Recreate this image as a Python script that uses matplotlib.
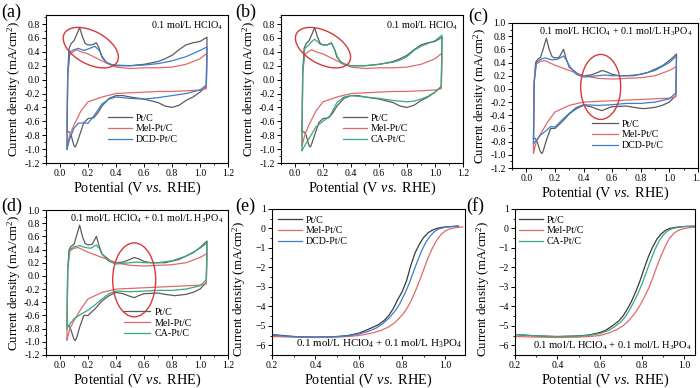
import numpy as np
import matplotlib
matplotlib.use("Agg")
import matplotlib.pyplot as plt
from matplotlib.patches import Ellipse
from matplotlib.transforms import ScaledTranslation
from matplotlib.ticker import AutoMinorLocator, MultipleLocator, FormatStrFormatter

plt.rcParams['font.family'] = ['Liberation Serif', 'DejaVu Serif']
plt.rcParams['mathtext.fontset'] = 'custom'
plt.rcParams['mathtext.rm'] = 'Liberation Serif'
plt.rcParams['mathtext.it'] = 'Liberation Serif:italic'

# ---------------- CV data, 0.1 M HClO4 (panels a, b) ----------------
cv1_pt_an_x = [0.05, 0.055, 0.065, 0.08, 0.10, 0.12, 0.14, 0.16, 0.18, 0.20, 0.23, 0.26, 0.28, 0.30, 0.33, 0.36, 0.40, 0.50, 0.60, 0.70, 0.75, 0.80, 0.85, 0.90, 0.95, 1.00, 1.05]
cv1_pt_an_y = [-0.75, 0.10, 0.45, 0.52, 0.56, 0.65, 0.75, 0.62, 0.52, 0.50, 0.50, 0.53, 0.45, 0.32, 0.25, 0.22, 0.20, 0.20, 0.22, 0.26, 0.30, 0.35, 0.43, 0.50, 0.53, 0.55, 0.61]
cv1_pt_ca_x = [1.05, 1.045, 1.00, 0.95, 0.90, 0.85, 0.80, 0.75, 0.70, 0.60, 0.50, 0.45, 0.40, 0.35, 0.30, 0.27, 0.24, 0.20, 0.17, 0.14, 0.12, 0.11, 0.10, 0.09, 0.08, 0.07, 0.06, 0.05]
cv1_pt_ca_y = [0.61, -0.10, -0.18, -0.25, -0.30, -0.37, -0.40, -0.38, -0.33, -0.28, -0.25, -0.23, -0.23, -0.27, -0.38, -0.48, -0.55, -0.56, -0.62, -0.80, -0.92, -0.97, -0.95, -0.88, -0.80, -0.76, -0.75, -0.75]

cv1_mel_an_x = [0.05, 0.055, 0.07, 0.10, 0.12, 0.15, 0.20, 0.25, 0.30, 0.35, 0.40, 0.50, 0.60, 0.70, 0.80, 0.90, 1.00, 1.05]
cv1_mel_an_y = [-0.95, 0.10, 0.36, 0.41, 0.43, 0.40, 0.37, 0.32, 0.27, 0.22, 0.18, 0.16, 0.17, 0.17, 0.18, 0.22, 0.30, 0.38]
cv1_mel_ca_x = [1.05, 1.045, 1.00, 0.90, 0.80, 0.70, 0.60, 0.50, 0.40, 0.30, 0.20, 0.15, 0.10, 0.07, 0.05]
cv1_mel_ca_y = [0.38, -0.13, -0.15, -0.16, -0.17, -0.17, -0.18, -0.19, -0.20, -0.25, -0.32, -0.45, -0.65, -0.80, -0.95]

cv1_dcd_an_x = [0.05, 0.055, 0.07, 0.10, 0.13, 0.17, 0.20, 0.25, 0.28, 0.30, 0.33, 0.36, 0.40, 0.50, 0.60, 0.70, 0.80, 0.90, 1.00, 1.05]
cv1_dcd_an_y = [-1.00, 0.05, 0.40, 0.43, 0.45, 0.42, 0.44, 0.48, 0.42, 0.34, 0.25, 0.22, 0.21, 0.20, 0.21, 0.23, 0.27, 0.33, 0.42, 0.47]
cv1_dcd_ca_x = [1.05, 1.045, 1.00, 0.90, 0.80, 0.70, 0.60, 0.50, 0.40, 0.35, 0.30, 0.25, 0.20, 0.17, 0.13, 0.10, 0.07, 0.05]
cv1_dcd_ca_y = [0.47, -0.08, -0.15, -0.20, -0.23, -0.26, -0.28, -0.27, -0.25, -0.28, -0.35, -0.50, -0.63, -0.62, -0.63, -0.70, -0.85, -1.00]

cv1_ca_an_x = [0.05, 0.055, 0.07, 0.10, 0.12, 0.14, 0.16, 0.18, 0.20, 0.23, 0.26, 0.28, 0.30, 0.33, 0.36, 0.40, 0.50, 0.60, 0.70, 0.75, 0.80, 0.85, 0.90, 0.95, 1.00, 1.05]
cv1_ca_an_y = [-1.02, 0.10, 0.45, 0.50, 0.55, 0.58, 0.55, 0.51, 0.50, 0.50, 0.52, 0.45, 0.34, 0.24, 0.21, 0.20, 0.20, 0.22, 0.25, 0.28, 0.33, 0.42, 0.48, 0.52, 0.56, 0.64]
cv1_ca_ca_x = [1.05, 1.045, 1.00, 0.95, 0.90, 0.85, 0.80, 0.75, 0.70, 0.60, 0.50, 0.40, 0.35, 0.30, 0.25, 0.20, 0.15, 0.10, 0.07, 0.05]
cv1_ca_ca_y = [0.64, -0.10, -0.18, -0.24, -0.28, -0.31, -0.32, -0.31, -0.30, -0.27, -0.25, -0.23, -0.25, -0.33, -0.52, -0.60, -0.68, -0.85, -0.95, -1.02]

# ---------------- CV data, 0.1 M HClO4 + 0.1 M H3PO4 (panels c, d) ----------------
cv2_pt_an_x = [0.05, 0.055, 0.065, 0.08, 0.10, 0.12, 0.14, 0.16, 0.18, 0.20, 0.23, 0.26, 0.28, 0.30, 0.33, 0.36, 0.40, 0.45, 0.50, 0.53, 0.56, 0.60, 0.65, 0.75, 0.85, 0.95, 1.00, 1.05]
cv2_pt_an_y = [-0.75, 0.10, 0.40, 0.45, 0.48, 0.62, 0.77, 0.60, 0.49, 0.47, 0.48, 0.60, 0.45, 0.33, 0.28, 0.23, 0.20, 0.21, 0.25, 0.28, 0.26, 0.22, 0.20, 0.20, 0.25, 0.35, 0.43, 0.53]
cv2_pt_ca_x = [1.05, 1.045, 1.00, 0.95, 0.90, 0.82, 0.75, 0.70, 0.60, 0.56, 0.53, 0.50, 0.45, 0.40, 0.35, 0.30, 0.25, 0.20, 0.17, 0.14, 0.12, 0.11, 0.10, 0.09, 0.08, 0.07, 0.06, 0.05]
cv2_pt_ca_y = [0.53, -0.10, -0.20, -0.25, -0.28, -0.30, -0.28, -0.26, -0.27, -0.30, -0.33, -0.31, -0.27, -0.25, -0.30, -0.38, -0.50, -0.60, -0.60, -0.78, -0.93, -0.98, -0.96, -0.90, -0.83, -0.77, -0.75, -0.75]

cv2_mel_an_x = [0.05, 0.055, 0.07, 0.10, 0.13, 0.20, 0.30, 0.40, 0.50, 0.60, 0.70, 0.80, 0.90, 1.00, 1.05]
cv2_mel_an_y = [-0.97, 0.10, 0.38, 0.42, 0.43, 0.36, 0.28, 0.20, 0.16, 0.15, 0.16, 0.17, 0.20, 0.28, 0.34]
cv2_mel_ca_x = [1.05, 1.045, 1.00, 0.90, 0.80, 0.70, 0.60, 0.50, 0.40, 0.30, 0.20, 0.15, 0.10, 0.07, 0.05]
cv2_mel_ca_y = [0.34, -0.12, -0.14, -0.15, -0.16, -0.17, -0.18, -0.19, -0.20, -0.25, -0.35, -0.50, -0.68, -0.80, -0.97]

cv2_dcd_an_x = [0.05, 0.055, 0.07, 0.10, 0.13, 0.18, 0.22, 0.26, 0.28, 0.30, 0.35, 0.40, 0.50, 0.55, 0.60, 0.70, 0.80, 0.90, 1.00, 1.05]
cv2_dcd_an_y = [-0.83, 0.10, 0.40, 0.45, 0.47, 0.44, 0.45, 0.50, 0.44, 0.35, 0.22, 0.18, 0.20, 0.21, 0.20, 0.20, 0.22, 0.28, 0.40, 0.50]
cv2_dcd_ca_x = [1.05, 1.045, 1.00, 0.90, 0.80, 0.70, 0.60, 0.50, 0.40, 0.35, 0.30, 0.25, 0.20, 0.17, 0.14, 0.10, 0.07, 0.05]
cv2_dcd_ca_y = [0.50, -0.06, -0.15, -0.20, -0.22, -0.22, -0.24, -0.25, -0.24, -0.28, -0.37, -0.47, -0.58, -0.57, -0.63, -0.70, -0.78, -0.83]

cv2_ca_an_x = [0.05, 0.055, 0.07, 0.10, 0.14, 0.18, 0.22, 0.26, 0.28, 0.30, 0.35, 0.40, 0.50, 0.55, 0.60, 0.70, 0.80, 0.90, 1.00, 1.05]
cv2_ca_an_y = [-0.80, 0.10, 0.40, 0.44, 0.46, 0.43, 0.42, 0.47, 0.42, 0.33, 0.22, 0.18, 0.20, 0.21, 0.20, 0.20, 0.23, 0.30, 0.42, 0.50]
cv2_ca_ca_x = [1.05, 1.045, 1.00, 0.90, 0.80, 0.70, 0.60, 0.50, 0.40, 0.35, 0.30, 0.25, 0.20, 0.15, 0.10, 0.07, 0.05]
cv2_ca_ca_y = [0.50, -0.06, -0.15, -0.20, -0.22, -0.22, -0.23, -0.24, -0.23, -0.27, -0.35, -0.44, -0.52, -0.58, -0.65, -0.73, -0.80]

# ---------------- LSV data (panels e, f) ----------------
lsv_e_pt_x = [0.20, 0.25, 0.30, 0.35, 0.40, 0.45, 0.50, 0.55, 0.60, 0.63, 0.66, 0.69, 0.72, 0.74, 0.76, 0.78, 0.80, 0.82, 0.84, 0.86, 0.88, 0.90, 0.92, 0.94, 0.96, 0.98, 1.00, 1.03, 1.06]
lsv_e_pt_y = [-5.45, -5.50, -5.55, -5.57, -5.58, -5.57, -5.55, -5.50, -5.38, -5.25, -5.10, -4.95, -4.70, -4.45, -4.10, -3.65, -3.25, -2.70, -1.90, -1.25, -0.80, -0.45, -0.22, -0.08, 0.00, 0.05, 0.08, 0.10, 0.12]
lsv_e_mel_x = [0.20, 0.30, 0.40, 0.50, 0.55, 0.60, 0.65, 0.70, 0.74, 0.77, 0.80, 0.82, 0.84, 0.86, 0.88, 0.90, 0.92, 0.94, 0.96, 0.98, 1.00, 1.02, 1.05, 1.08]
lsv_e_mel_y = [-5.55, -5.58, -5.60, -5.58, -5.55, -5.50, -5.40, -5.25, -5.05, -4.80, -4.45, -4.15, -3.75, -3.25, -2.70, -2.10, -1.50, -1.00, -0.60, -0.30, -0.12, -0.02, 0.05, 0.08]
lsv_e_dcd_x = [0.20, 0.25, 0.30, 0.35, 0.40, 0.45, 0.50, 0.55, 0.60, 0.64, 0.68, 0.71, 0.74, 0.77, 0.79, 0.81, 0.83, 0.85, 0.87, 0.89, 0.91, 0.93, 0.95, 0.97, 1.00, 1.03, 1.06]
lsv_e_dcd_y = [-5.48, -5.52, -5.56, -5.58, -5.58, -5.57, -5.56, -5.52, -5.42, -5.30, -5.12, -4.90, -4.60, -4.20, -3.85, -3.40, -2.90, -2.30, -1.70, -1.15, -0.70, -0.38, -0.15, -0.02, 0.07, 0.10, 0.12]

lsv_f_pt_x = [0.20, 0.30, 0.40, 0.50, 0.55, 0.60, 0.63, 0.66, 0.69, 0.71, 0.73, 0.75, 0.77, 0.79, 0.81, 0.83, 0.85, 0.87, 0.89, 0.91, 0.93, 0.96, 1.00, 1.06]
lsv_f_pt_y = [-5.45, -5.52, -5.55, -5.52, -5.47, -5.35, -5.22, -5.00, -4.75, -4.50, -4.15, -3.75, -3.25, -2.70, -2.05, -1.45, -0.95, -0.55, -0.28, -0.10, 0.00, 0.06, 0.10, 0.12]
lsv_f_mel_x = [0.20, 0.30, 0.40, 0.50, 0.55, 0.60, 0.64, 0.68, 0.71, 0.74, 0.77, 0.79, 0.81, 0.83, 0.85, 0.87, 0.89, 0.91, 0.93, 0.95, 0.97, 1.00, 1.03, 1.06]
lsv_f_mel_y = [-5.55, -5.58, -5.60, -5.58, -5.55, -5.50, -5.38, -5.20, -5.00, -4.70, -4.30, -3.95, -3.55, -3.10, -2.55, -1.95, -1.40, -0.90, -0.50, -0.25, -0.10, 0.00, 0.05, 0.07]
lsv_f_ca_x = [0.20, 0.30, 0.40, 0.50, 0.55, 0.60, 0.64, 0.67, 0.70, 0.72, 0.74, 0.76, 0.78, 0.80, 0.82, 0.84, 0.86, 0.88, 0.90, 0.92, 0.94, 0.97, 1.00, 1.06]
lsv_f_ca_y = [-5.45, -5.52, -5.56, -5.53, -5.49, -5.40, -5.25, -5.05, -4.80, -4.55, -4.20, -3.80, -3.35, -2.85, -2.25, -1.65, -1.10, -0.65, -0.33, -0.13, -0.02, 0.06, 0.10, 0.12]

labels_dcd = ["Pt/C", "Mel-Pt/C", "DCD-Pt/C"]
labels_ca = ["Pt/C", "Mel-Pt/C", "CA-Pt/C"]
txt_hclo4 = "0.1 mol/L HClO$_4$"
txt_mix = "0.1 mol/L HClO$_4$ + 0.1 mol/L H$_3$PO$_4$"
xlabel = "Potential (V $\\mathit{vs.}$ RHE)"
ylabel = "Current density (mA/cm$^2$)"

C_GRAY = '#5c5c5c'
C_BLACK = '#3a3a3a'
C_RED = '#e06a6a'
C_BLUE = '#3d7dcc'
C_GREEN = '#3aa882'
C_ELL = '#d8383a'

W, H = 700, 388
fig = plt.figure(figsize=(W / 100, H / 100), dpi=100)


def px_axes(left, top, right, bottom):
    return fig.add_axes([left / W, 1 - bottom / H, (right - left) / W, (bottom - top) / H])


def style(ax):
    for s in ax.spines.values():
        s.set_linewidth(0.8)
    ax.tick_params(which='major', direction='out', length=3, width=0.7, labelsize=7, pad=1.5)
    ax.tick_params(which='minor', direction='out', length=1.6, width=0.6)
    ax.xaxis.set_minor_locator(AutoMinorLocator(2))
    ax.yaxis.set_minor_locator(AutoMinorLocator(2))
    ax.set_xlabel(xlabel, fontsize=10.3, labelpad=1)
    ax.set_ylabel(ylabel, fontsize=9.3, labelpad=1)


def cv_axes(ax, ytop):
    ax.set_xlim(-0.1, 1.2)
    ax.set_ylim(-1.2, ytop)
    ax.xaxis.set_major_locator(MultipleLocator(0.2))
    ax.yaxis.set_major_locator(MultipleLocator(0.2))
    ax.xaxis.set_major_formatter(FormatStrFormatter('%.1f'))
    ax.yaxis.set_major_formatter(FormatStrFormatter('%.1f'))
    style(ax)


def loop(ax, ax_x, ax_y, ca_x, ca_y, color, label):
    x = list(ax_x) + list(ca_x)
    y = list(ax_y) + list(ca_y)
    ax.plot(x, y, color=color, lw=0.9, label=label)


def ellipse(ax, cx, cy, w_px, h_px, angle):
    tr = fig.dpi_scale_trans + ScaledTranslation(cx, cy, ax.transData)
    ax.add_patch(Ellipse((0, 0), w_px / 100, h_px / 100, angle=angle, transform=tr,
                         fill=False, edgecolor=C_ELL, lw=1.0, zorder=5))


def legend(ax, x, y, hl=2.4):
    ax.legend(loc='center left', bbox_to_anchor=(x, y), frameon=False, fontsize=7.2,
              borderpad=0, borderaxespad=0, handlelength=hl, handletextpad=0.4,
              labelspacing=0.18)


# (a)
axa = px_axes(46, 15, 228, 163)
loop(axa, cv1_pt_an_x, cv1_pt_an_y, cv1_pt_ca_x, cv1_pt_ca_y, C_GRAY, labels_dcd[0])
loop(axa, cv1_mel_an_x, cv1_mel_an_y, cv1_mel_ca_x, cv1_mel_ca_y, C_RED, labels_dcd[1])
loop(axa, cv1_dcd_an_x, cv1_dcd_an_y, cv1_dcd_ca_x, cv1_dcd_ca_y, C_BLUE, labels_dcd[2])
cv_axes(axa, 0.93)
ellipse(axa, 0.22, 0.46, 60, 33, -28)
axa.text(0.975, 0.93, txt_hclo4, transform=axa.transAxes, ha='right', va='center', fontsize=7.3)
legend(axa, 0.34, 0.23)

# (b)
axb = px_axes(281, 15, 463, 163)
loop(axb, cv1_pt_an_x, cv1_pt_an_y, cv1_pt_ca_x, cv1_pt_ca_y, C_GRAY, labels_ca[0])
loop(axb, cv1_mel_an_x, cv1_mel_an_y, cv1_mel_ca_x, cv1_mel_ca_y, C_RED, labels_ca[1])
loop(axb, cv1_ca_an_x, cv1_ca_an_y, cv1_ca_ca_x, cv1_ca_ca_y, C_GREEN, labels_ca[2])
cv_axes(axb, 0.93)
ellipse(axb, 0.20, 0.46, 60, 33, -28)
axb.text(0.975, 0.93, txt_hclo4, transform=axb.transAxes, ha='right', va='center', fontsize=7.3)
legend(axb, 0.34, 0.23)

# (c)
axc = px_axes(512, 23, 698, 168)
loop(axc, cv2_pt_an_x, cv2_pt_an_y, cv2_pt_ca_x, cv2_pt_ca_y, C_GRAY, labels_dcd[0])
loop(axc, cv2_mel_an_x, cv2_mel_an_y, cv2_mel_ca_x, cv2_mel_ca_y, C_RED, labels_dcd[1])
loop(axc, cv2_dcd_an_x, cv2_dcd_an_y, cv2_dcd_ca_x, cv2_dcd_ca_y, C_BLUE, labels_dcd[2])
cv_axes(axc, 1.0)
ellipse(axc, 0.52, 0.03, 40, 65, 0)
axc.text(0.968, 0.938, txt_mix, transform=axc.transAxes, ha='right', va='center', fontsize=7.3)
legend(axc, 0.43, 0.228, hl=2.6)

# (d)
axd = px_axes(46, 210, 228, 355)
loop(axd, cv2_pt_an_x, cv2_pt_an_y, cv2_pt_ca_x, cv2_pt_ca_y, C_GRAY, labels_ca[0])
loop(axd, cv2_mel_an_x, cv2_mel_an_y, cv2_mel_ca_x, cv2_mel_ca_y, C_RED, labels_ca[1])
loop(axd, cv2_ca_an_x, cv2_ca_an_y, cv2_ca_ca_x, cv2_ca_ca_y, C_GREEN, labels_ca[2])
cv_axes(axd, 1.0)
ellipse(axd, 0.53, -0.06, 43, 74, 0)
axd.text(0.973, 0.938, txt_mix, transform=axd.transAxes, ha='right', va='center', fontsize=7.3)
legend(axd, 0.43, 0.22, hl=2.6)


def lsv_axes(ax, xmax, ylab_x):
    ax.set_xlim(0.2, xmax)
    ax.set_ylim(-6.5, 1)
    ax.xaxis.set_major_locator(MultipleLocator(0.2))
    ax.yaxis.set_major_locator(MultipleLocator(1))
    ax.xaxis.set_major_formatter(FormatStrFormatter('%.1f'))
    style(ax)
    ax.yaxis.set_label_coords(ylab_x, 0.455)


# (e)
axe = px_axes(272, 209, 465, 355)
axe.plot(lsv_e_pt_x, lsv_e_pt_y, color=C_BLACK, lw=0.9, label=labels_dcd[0])
axe.plot(lsv_e_mel_x, lsv_e_mel_y, color=C_RED, lw=0.9, label=labels_dcd[1])
axe.plot(lsv_e_dcd_x, lsv_e_dcd_y, color=C_BLUE, lw=0.9, label=labels_dcd[2])
lsv_axes(axe, 1.09, -0.125)
axe.text(0.985, 0.075, txt_mix, transform=axe.transAxes, ha='right', va='center', fontsize=7.9)
legend(axe, 0.03, 0.85)

# (f)
axf = px_axes(515, 209, 695, 355)
axf.plot(lsv_f_pt_x, lsv_f_pt_y, color=C_BLACK, lw=0.9, label=labels_ca[0])
axf.plot(lsv_f_mel_x, lsv_f_mel_y, color=C_RED, lw=0.9, label=labels_ca[1])
axf.plot(lsv_f_ca_x, lsv_f_ca_y, color=C_GREEN, lw=0.9, label=labels_ca[2])
lsv_axes(axf, 1.05, -0.13)
axf.text(0.985, 0.065, txt_mix, transform=axf.transAxes, ha='right', va='center', fontsize=7.6)
legend(axf, 0.02, 0.85)

# panel letters
for lab, xp, yp in [("(a)", 1, 12), ("(b)", 235, 12), ("(c)", 468, 16),
                    ("(d)", 1, 206), ("(e)", 235, 206), ("(f)", 466, 206)]:
    fig.text(xp / W, 1 - yp / H, lab, fontsize=13, ha='left', va='center')

fig.savefig("out.png", dpi=100)
